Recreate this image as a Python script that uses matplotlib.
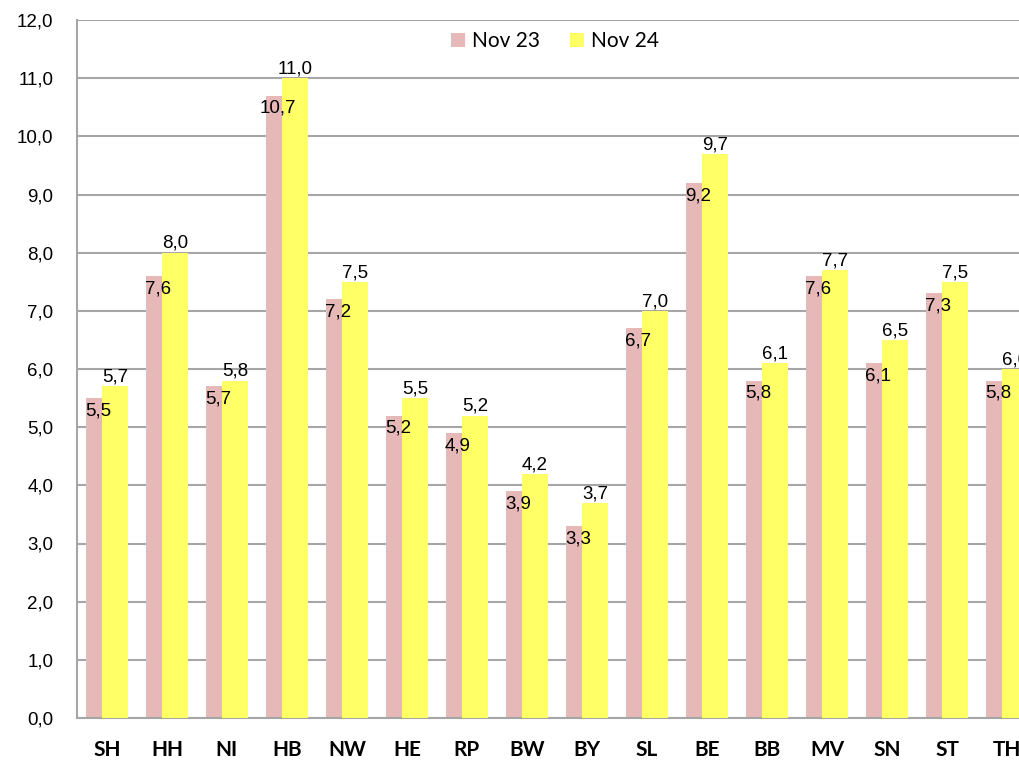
import matplotlib
matplotlib.use("Agg")
import matplotlib.pyplot as plt
import numpy as np
from matplotlib.patches import Patch

categories = ["SH", "HH", "NI", "HB", "NW", "HE", "RP", "BW", "BY", "SL", "BE", "BB", "MV", "SN", "ST", "TH"]
nov23 = [5.5, 7.6, 5.7, 10.7, 7.2, 5.2, 4.9, 3.9, 3.3, 6.7, 9.2, 5.8, 7.6, 6.1, 7.3, 5.8]
nov24 = [5.7, 8.0, 5.8, 11.0, 7.5, 5.5, 5.2, 4.2, 3.7, 7.0, 9.7, 6.1, 7.7, 6.5, 7.5, 6.0]
series_names = ["Nov 23", "Nov 24"]
yticks = np.arange(0, 13, 1)

pink = "#E6B8B7"
yellow = "#FFFF66"
grid = "#A6A6A6"

fig = plt.figure(figsize=(10.2, 7.6), dpi=100)
ax = fig.add_axes([77/1020, 1-718/760, 960/1020, 698/760])

x = np.arange(len(categories))
w = 0.43
off = 0.131
ax.bar(x - off, nov23, width=w, color=pink, zorder=2)
ax.bar(x + off, nov24, width=w, color=yellow, zorder=3)

fmt = lambda v: f"{v:.1f}".replace(".", ",")
for i, (a, b) in enumerate(zip(nov23, nov24)):
    ax.annotate(fmt(a), (i - off - 0.02, a), xytext=(0, -3), textcoords="offset points",
                ha="center", va="top", fontsize=13.5, family="Liberation Sans", zorder=5)
    ax.annotate(fmt(b), (i + off, b), xytext=(0, 0.5), textcoords="offset points",
                ha="center", va="bottom", fontsize=13.5, family="Liberation Sans", zorder=5)

ax.set_xlim(-0.5, len(categories) - 0.5)
ax.set_ylim(0, 12)
ax.set_yticks(yticks)
ax.set_yticklabels([fmt(v) for v in yticks], fontsize=13.5, family="Liberation Sans")
ax.set_xticks(x)
ax.set_xticklabels(categories, fontsize=15, fontweight="bold", family="Lato")
ax.tick_params(axis="y", length=0, pad=17)
ax.tick_params(axis="x", length=0, pad=16)
ax.grid(axis="y", color=grid, linewidth=1.5, zorder=0)
ax.set_axisbelow(True)
for s in ["top", "right"]:
    ax.spines[s].set_visible(False)
for s in ["left", "bottom"]:
    ax.spines[s].set_color(grid)
    ax.spines[s].set_linewidth(1.5)

handles = [Patch(facecolor=pink), Patch(facecolor=yellow)]
leg = ax.legend(handles, series_names, loc="upper center", bbox_to_anchor=((555 - 77) / 960, 1.0),
                ncol=2, frameon=False, prop={"family": "Lato", "size": 15},
                handlelength=0.7, handleheight=0.7, columnspacing=1.4, handletextpad=0.35,
                borderaxespad=0.15)

fig.savefig("out.png", dpi=100)
